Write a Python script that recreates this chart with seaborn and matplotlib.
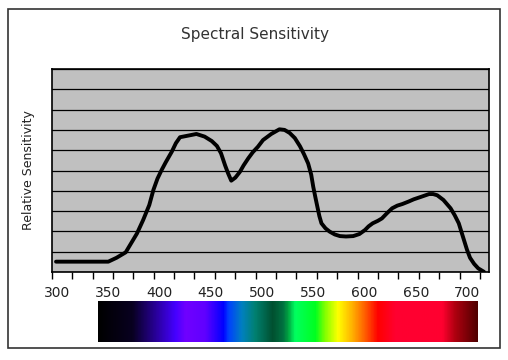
import numpy as np
import matplotlib
matplotlib.use("Agg")
import matplotlib.pyplot as plt
import seaborn as sns
from matplotlib.colors import LinearSegmentedColormap
from matplotlib.patches import Rectangle

# curve (wavelength in nm, relative sensitivity 0-10)
wavelength = [299, 350, 358, 367, 378, 384, 390, 394, 398, 402, 406, 412, 416, 420,
              428, 436, 444, 451, 456, 460, 464, 467, 470, 474, 478.5, 482, 486.6,
              491, 496, 501, 509, 517, 522, 527, 532, 537, 541, 545, 548, 550,
              552, 554, 556, 558, 562, 566, 571, 576, 582, 589, 595, 600.5, 604,
              608, 613, 617, 622, 627, 632, 637, 643, 648, 655, 663, 667, 671,
              677, 684, 688, 692, 696, 700, 703, 707, 711, 716.6]
sensitivity = [0.51, 0.51, 0.7, 0.97, 1.9, 2.56, 3.3, 4.04, 4.6, 5.02, 5.4, 5.93, 6.35,
               6.64, 6.72, 6.8, 6.67, 6.45, 6.21, 5.85, 5.25, 4.85, 4.5, 4.65, 4.94, 5.25,
               5.6, 5.9, 6.17, 6.5, 6.8, 7.03, 7.0, 6.85, 6.6, 6.2, 5.8, 5.35, 4.8,
               4.2, 3.7, 3.22, 2.75, 2.4, 2.15, 1.99, 1.85, 1.77, 1.75, 1.77, 1.87,
               2.07, 2.25, 2.4, 2.52, 2.64, 2.9, 3.14, 3.27, 3.35, 3.47, 3.58, 3.7,
               3.84, 3.84, 3.78, 3.55, 3.14, 2.8, 2.4, 1.75, 1.1, 0.7, 0.4, 0.18, 0.01]

tick_labels = [300, 350, 400, 450, 500, 550, 600, 650, 700]

# colour stops of the spectrum strip
spectrum_nm = [340, 373, 415, 425, 444, 462, 467, 480, 493, 510, 520, 525, 532,
               552, 561, 574, 588, 600, 613, 630, 676, 688, 710]
spectrum_col = ["#000000", "#080020", "#4400ff", "#7000ff", "#6000ff", "#0000ff",
                "#0040ff", "#0080c0", "#008070", "#005030", "#007040", "#00a040",
                "#00ff60", "#00ff20", "#80ff00", "#ffff00", "#ffb000", "#ff6000",
                "#ff0000", "#ff0030", "#ff0030", "#b00010", "#500000"]

sns.set_style("white")
plt.rcParams["font.family"] = ["DejaVu Sans"]

fig = plt.figure(figsize=(5.08, 3.6), dpi=100)

# outer frame
fig.patches.append(Rectangle((0.0157, 0.0333), 0.968, 0.942, transform=fig.transFigure,
                             fill=False, edgecolor="#333333", lw=1.2))

ax = fig.add_axes([0.1018, 0.2444, 0.8608, 0.5639])
ax.set_facecolor("#c0c0c0")
sns.lineplot(x=wavelength, y=sensitivity, ax=ax, color="black", lw=2.8,
             solid_joinstyle="round", solid_capstyle="round")

ax.set_xlim(294.8, 721.5)
ax.set_ylim(0, 10)
ax.set_yticks(range(0, 11))
ax.set_yticklabels([])
ax.yaxis.grid(True, color="black", lw=0.9)
ax.xaxis.grid(False)
ax.tick_params(axis="y", length=0)

ax.set_xticks(tick_labels)
ax.set_xticklabels([str(t) for t in tick_labels], fontsize=10, color="#222222")
ax.set_xticks(np.arange(294.8, 720, 19.9), minor=True)
ax.tick_params(axis="x", which="major", length=0, pad=10)
ax.tick_params(axis="x", which="minor", length=5, width=1, color="black", direction="out", bottom=True)
for s in ax.spines.values():
    s.set_color("black")
    s.set_linewidth(1.2)

ax.set_ylabel("Relative Sensitivity", fontsize=9, color="#222222")
ax.yaxis.set_label_coords(-0.038, 0.5)
fig.text(0.502, 0.905, "Spectral Sensitivity", ha="center", va="center",
         fontsize=11, color="#333333")

# spectrum strip
bar = fig.add_axes([0.1018, 0.0508, 0.8608, 0.1131])
pos = [(n - spectrum_nm[0]) / (spectrum_nm[-1] - spectrum_nm[0]) for n in spectrum_nm]
cmap = LinearSegmentedColormap.from_list("spec", list(zip(pos, spectrum_col)))
grad = np.linspace(0, 1, 512).reshape(1, -1)
bar.imshow(grad, cmap=cmap, aspect="auto", extent=(spectrum_nm[0], spectrum_nm[-1], 0, 1))
bar.set_xlim(294.8, 721.5)
bar.axis("off")

fig.savefig("out.png", dpi=100)
